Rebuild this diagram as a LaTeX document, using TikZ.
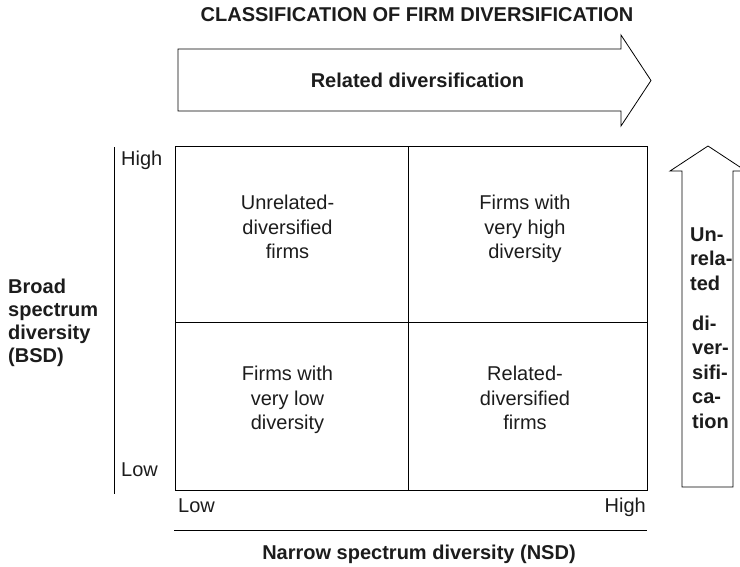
\documentclass[tikz,border=0pt]{standalone}
\usepackage{fontspec}
\setmainfont{Liberation Sans}
\definecolor{txt}{RGB}{28,28,28}
\begin{document}
\begin{tikzpicture}[x=1pt,y=-1pt,
  ink/.style={draw=black,line width=0.8pt,line join=miter},
  plain/.style={font=\fontsize{20}{24.3}\selectfont,text=txt,inner sep=0pt},
  heavy/.style={font=\bfseries\fontsize{20}{23}\selectfont,text=txt,inner sep=0pt},
  narrowcol/.style={font=\bfseries\fontsize{20}{24.5}\selectfont,text=txt,inner sep=0pt,align=left,anchor=north west}]
\useasboundingbox (0,0) rectangle (740,566);
\clip (0,0) rectangle (740,566);

% heading
\node[heavy,anchor=base] (title) at (417,21.5) {CLASSIFICATION OF FIRM DIVERSIFICATION};

% horizontal block arrow
\draw[ink] (178,49) -- (621,49) -- (621,35) -- (651,80.5) -- (621,126) -- (621,111) -- (178,111) -- cycle;
\node[heavy,anchor=base] (rel) at (417.5,87) {Related diversification};

% vertical block arrow
\draw[ink] (682,487) -- (682,171) -- (670,171) -- (708,146) -- (746,171) -- (733,171) -- (733,487) -- cycle;
\node[narrowcol] (unrelA) at (690,227.3) {Un-\\rela-\\ted};
\node[narrowcol] (unrelB) at (692,315.5) {di-\\ver-\\sifi-\\ca-\\tion};

% 2x2 matrix
\draw[ink] (175,146) rectangle (647,490);
\draw[ink] (408,146) -- (408,490);
\draw[ink] (175,322) -- (647,322);

\node[plain,align=center,anchor=north] (ul) at (287.5,195.3) {Unrelated-\\diversified\\firms};
\node[plain,align=center,anchor=north] (ur) at (525,195.3) {Firms with\\very high\\diversity};
\node[plain,align=center,anchor=north] (ll) at (287.5,366) {Firms with\\very low\\diversity};
\node[plain,align=center,anchor=north] (lr) at (525,366) {Related-\\diversified\\firms};

% vertical axis
\draw[ink] (114,147) -- (114,494);
\node[plain,anchor=base west] (yhi) at (121,165) {High};
\node[plain,anchor=base west] (ylo) at (121,476) {Low};
\node[heavy,align=left,anchor=north west] (bsd) at (8,278.5) {Broad\\spectrum\\diversity\\(BSD)};

% horizontal axis
\node[plain,anchor=base west] (xlo) at (178,512) {Low};
\node[plain,anchor=base east] (xhi) at (646,512) {High};
\draw[ink] (174,530) -- (647,530);
\node[heavy,anchor=base] (nsd) at (419,559.5) {Narrow spectrum diversity (NSD)};
\end{tikzpicture}
\end{document}
